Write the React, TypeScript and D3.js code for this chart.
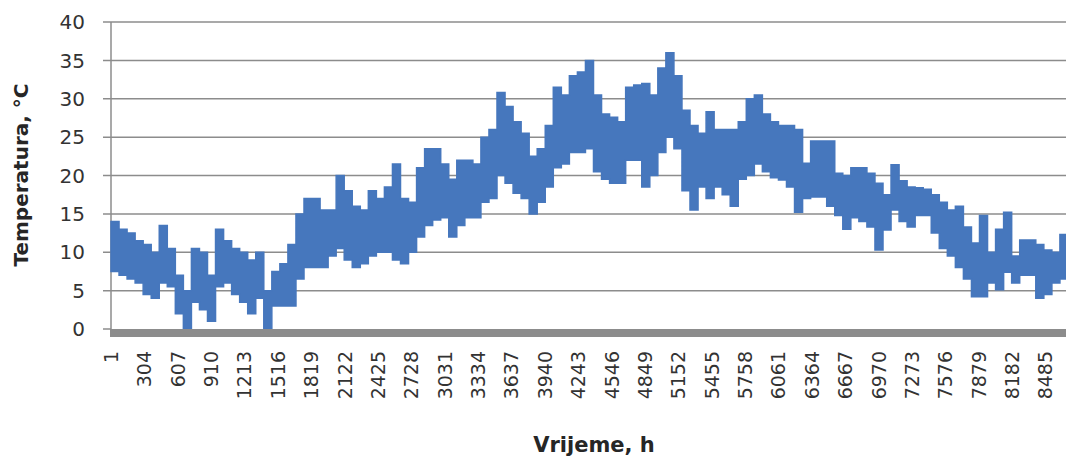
import { useEffect, useRef } from "react";
import * as d3 from "d3";

// hourly temperature envelope, one sample every 73 h (upper / lower edge of the band)
const tempHigh = [
  14, 13, 12.5, 11.5, 11, 10, 13.5, 10.5, 7, 5,
  10.5, 10, 7, 13, 11.5, 10.5, 10, 9, 10, 5,
  7.5, 8.5, 11, 15, 17, 17, 15.5, 15.5, 20, 18,
  16, 15.5, 18, 17, 18.5, 21.5, 17, 16.5, 21, 23.5,
  23.5, 21.5, 19.5, 22, 22, 21.5, 25, 26, 30.8, 29,
  27, 25.5, 22.5, 23.5, 26.5, 31.5, 30.5, 33, 33.5, 35,
  30.5, 28, 27.6, 27, 31.5, 31.8, 32, 30.5, 34, 36,
  33, 28.5, 26.5, 25.5, 28.3, 26, 26, 26, 27, 30,
  30.5, 28, 27, 26.5, 26.5, 26, 21.6, 24.5, 24.5, 24.5,
  20.3, 20, 21, 21, 20.3, 19, 17.5, 21.4, 19.3, 18.5,
  18.4, 18.2, 17.5, 16.5, 15.5, 16, 13.3, 11.2, 14.8, 10,
  13, 15.2, 9.5, 11.6, 11.6, 11, 10.3, 10, 12.3, 10,
];

const tempLow = [
  7.5, 7, 6.5, 6, 4.5, 4, 6, 5.5, 2, 0,
  3.5, 2.5, 1, 5.5, 6, 4.5, 3.5, 2, 4, 0,
  3, 3, 3, 6.5, 8, 8, 8, 9.5, 10.5, 9,
  8, 8.5, 9.5, 10, 10, 9, 8.5, 10, 12, 13.5,
  14.2, 14.5, 12, 13.5, 14.5, 14.5, 16.5, 17, 20, 19,
  17.7, 17, 15, 16.5, 18.5, 21, 21.5, 23, 23, 23.5,
  20.5, 19.5, 19, 19, 22, 22, 18.5, 20, 23, 25,
  23.5, 18, 15.5, 18.5, 17, 18.5, 17.5, 16, 19.5, 20,
  21.5, 20.5, 19.7, 19.4, 18.5, 15.2, 17, 17.2, 17.2, 16,
  14.8, 13, 14.5, 14, 13.3, 10.3, 12.9, 15.5, 14, 13.3,
  14.8, 14.8, 12.5, 10.5, 9.5, 8, 6.5, 4.2, 4.2, 6,
  5.1, 7.4, 6, 7, 7, 4, 4.5, 6, 6.5, 6,
];

const yTicks = [0, 5, 10, 15, 20, 25, 30, 35, 40];

const xTickLabels = [
  1, 304, 607, 910, 1213, 1516, 1819, 2122, 2425, 2728, 3031, 3334, 3637, 3940,
  4243, 4546, 4849, 5152, 5455, 5758, 6061, 6364, 6667, 6970, 7273, 7576, 7879,
  8182, 8485,
];

const HOURS = 8760;
const STEP = 73;

function App() {
  const svgRef = useRef<SVGSVGElement>(null);

  useEffect(() => {
    const svgElement = svgRef.current;
    if (!svgElement) return;

    const width = 1066;
    const height = 458;
    const plot = { left: 111, right: 1076, top: 22, bottom: 329 };

    const svg = d3
      .select(svgElement)
      .attr("width", width)
      .attr("height", height)
      .style("font-family", "'DejaVu Sans', sans-serif");

    const x = d3.scaleLinear().domain([0, HOURS]).range([plot.left, plot.right]);
    const y = d3.scaleLinear().domain([0, 40]).range([plot.bottom, plot.top]);

    const data = tempHigh.map((hi, i) => ({ h: i * STEP, hi, lo: tempLow[i] }));
    data.push({ h: HOURS, hi: tempHigh[tempHigh.length - 1], lo: tempLow[tempLow.length - 1] });

    // gridlines (they also make the little ticks left of the axis)
    svg
      .selectAll(".grid")
      .data(yTicks.filter((t) => t > 0))
      .enter()
      .append("line")
      .attr("class", "grid")
      .attr("x1", plot.left - 8)
      .attr("x2", width)
      .attr("y1", (d) => y(d))
      .attr("y2", (d) => y(d))
      .attr("stroke", "#8c8c8c")
      .attr("stroke-width", 1.5);

    // vertical axis
    svg
      .append("line")
      .attr("x1", plot.left)
      .attr("x2", plot.left)
      .attr("y1", plot.top)
      .attr("y2", plot.bottom)
      .attr("stroke", "#8c8c8c")
      .attr("stroke-width", 1.5);

    svg
      .append("line")
      .attr("x1", plot.left - 8)
      .attr("x2", plot.left)
      .attr("y1", y(0))
      .attr("y2", y(0))
      .attr("stroke", "#8c8c8c")
      .attr("stroke-width", 1.5);

    // temperature band
    const area = d3
      .area<{ h: number; hi: number; lo: number }>()
      .x((d) => x(d.h))
      .y0((d) => y(d.lo))
      .y1((d) => y(d.hi))
      .curve(d3.curveStepAfter);

    svg
      .append("path")
      .datum(data)
      .attr("d", area)
      .attr("fill", "#4677bd")
      .attr("stroke", "#4677bd")
      .attr("stroke-width", 1.5)
      .attr("stroke-linejoin", "miter");

    // thick category axis
    svg
      .append("rect")
      .attr("x", plot.left - 1)
      .attr("y", y(0))
      .attr("width", width - plot.left + 1)
      .attr("height", 8)
      .attr("fill", "#8c8c8c");

    // y tick labels
    svg
      .selectAll(".ylabel")
      .data(yTicks)
      .enter()
      .append("text")
      .attr("class", "ylabel")
      .attr("x", 85)
      .attr("y", (d) => y(d))
      .attr("dy", "0.36em")
      .attr("text-anchor", "end")
      .style("font-size", "20px")
      .style("fill", "#333")
      .text((d) => d);

    // x tick labels, rotated
    svg
      .selectAll(".xlabel")
      .data(xTickLabels)
      .enter()
      .append("text")
      .attr("class", "xlabel")
      .attr("transform", (d) => `translate(${x(d - 0.5)},351) rotate(-90)`)
      .attr("dy", "0.36em")
      .attr("text-anchor", "end")
      .style("font-size", "19px")
      .style("fill", "#333")
      .text((d) => d);

    // axis titles
    svg
      .append("text")
      .attr("transform", `translate(28,175) rotate(-90)`)
      .attr("text-anchor", "middle")
      .style("font-size", "20px")
      .style("font-weight", "bold")
      .style("fill", "#262626")
      .text("Temperatura, °C");

    svg
      .append("text")
      .attr("x", 594)
      .attr("y", 452)
      .attr("text-anchor", "middle")
      .style("font-size", "21px")
      .style("font-weight", "bold")
      .style("fill", "#262626")
      .text("Vrijeme, h");

    return () => {
      d3.select(svgElement).selectAll("*").remove();
    };
  }, []);

  return <svg ref={svgRef} style={{ position: "absolute", left: 0, top: 0 }}></svg>;
}

export default App;
